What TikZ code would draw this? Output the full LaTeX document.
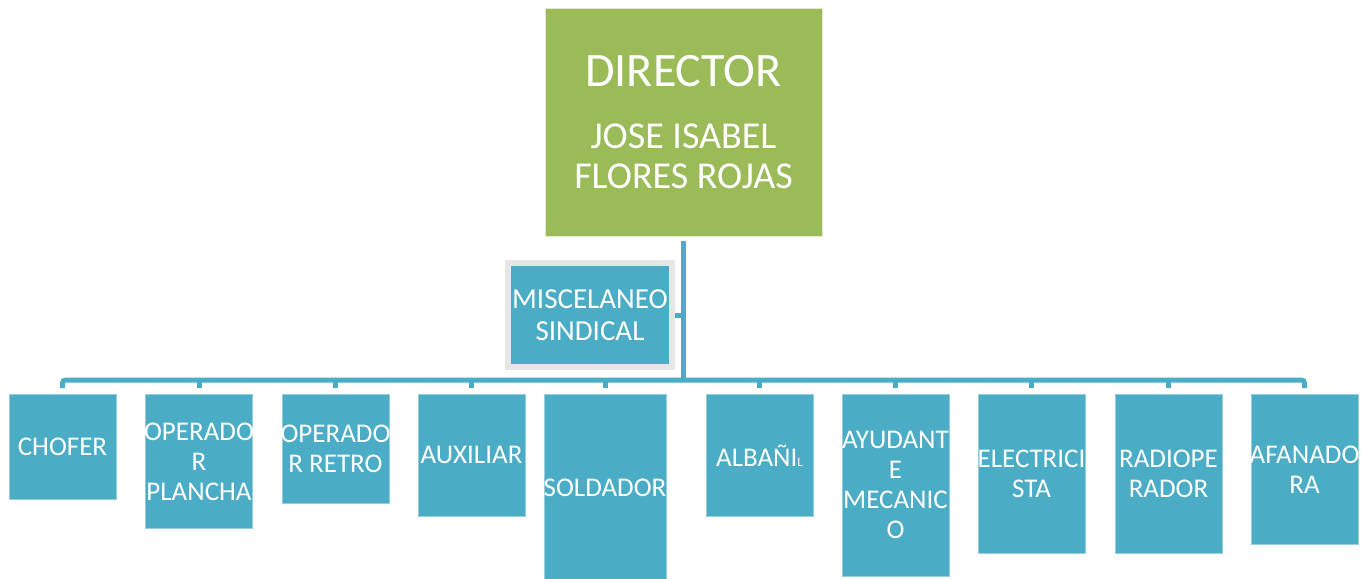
\documentclass[tikz,border=0pt]{standalone}
\usepackage{fontspec}
\setmainfont{Carlito}
\definecolor{blaugruen}{RGB}{75,172,198}
\definecolor{blattgruen}{RGB}{155,187,89}
\definecolor{randgrau}{RGB}{230,230,230}
\definecolor{randblau}{RGB}{150,205,220}
\newcommand{\zeile}[1]{\makebox[\linewidth]{#1}}
\tikzset{
  posten/.style={fill=blaugruen, draw=randblau, line width=0.8pt, text=white,
    text width=107pt, inner sep=0pt, align=flush center, anchor=north,
    font=\fontsize{27}{30}\selectfont},
  linie/.style={draw=blaugruen, line width=5pt},
}
\begin{document}
\begin{tikzpicture}[x=1pt,y=-1pt]
			\useasboundingbox (0,0) rectangle (1364,578);

			% Direktor
			\node[fill=blattgruen, draw=white!70!blattgruen, line width=0.8pt, text=white,
			      minimum width=277pt, minimum height=228pt, align=center,
			      font=\fontsize{38}{40}\selectfont]
			      (direktor) at (683.5,122)
			      {\fontsize{48}{48}\selectfont DIRECTOR\\[22pt]
			       JOSE ISABEL\\FLORES ROJAS};

			% Sekretariat
			\node[fill=blaugruen, draw=randgrau, line width=6pt, text=white,
			      minimum width=164pt, minimum height=104pt, inner sep=0pt, align=center,
			      font=\fontsize{29}{32}\selectfont]
			      (misc) at (590,315) {MISCELANEO\\SINDICAL};

			% Abteilungen
			\node[posten, minimum height=105pt] (chofer) at (62.5,394) {CHOFER};
			\node[posten, minimum height=134pt] (plancha) at (199,394) {\zeile{OPERADO}\\R\\PLANCHA};
			\node[posten, minimum height=109pt] (retro) at (335.5,394) {\zeile{OPERADO}\\R RETRO};
			\node[posten, minimum height=122pt] (auxiliar) at (471.5,394) {AUXILIAR};
			\node[posten, minimum height=186pt, text width=122pt] (soldador) at (605,394) {\zeile{SOLDADOR}};
			\node[posten, minimum height=122pt] (albanil) at (759.5,394) {ALBAÑI\fontsize{13}{13}\selectfont L};
			\node[posten, minimum height=182pt] (ayudante) at (895.5,394) {\zeile{AYUDANT}\\E\\\zeile{MECANIC}\\O};
			\node[posten, minimum height=159pt] (electricista) at (1031.5,394) {\zeile{ELECTRICI}\\STA};
			\node[posten, minimum height=159pt] (radio) at (1168.5,394) {RADIOPE\\RADOR};
			\node[posten, minimum height=150pt] (afanadora) at (1304.5,394) {\zeile{AFANADO}\\RA};

			% Verbindungen
			\coordinate (knoten) at (683.5,380);
			\draw[linie] ([yshift=-5pt]direktor.south) -- (knoten);
			\draw[linie] (misc.east) -- (misc.east -| knoten);
			\draw[linie, rounded corners=3pt] ([yshift=6pt]chofer.north) |- (knoten) -| ([yshift=6pt]afanadora.north);
			\draw[linie] ([yshift=6pt]plancha.north) -- (plancha.north |- knoten);
			\draw[linie] ([yshift=6pt]retro.north) -- (retro.north |- knoten);
			\draw[linie] ([yshift=6pt]auxiliar.north) -- (auxiliar.north |- knoten);
			\draw[linie] ([yshift=6pt]soldador.north) -- (soldador.north |- knoten);
			\draw[linie] ([yshift=6pt]albanil.north) -- (albanil.north |- knoten);
			\draw[linie] ([yshift=6pt]ayudante.north) -- (ayudante.north |- knoten);
			\draw[linie] ([yshift=6pt]electricista.north) -- (electricista.north |- knoten);
			\draw[linie] ([yshift=6pt]radio.north) -- (radio.north |- knoten);

		\end{tikzpicture}
\end{document}
